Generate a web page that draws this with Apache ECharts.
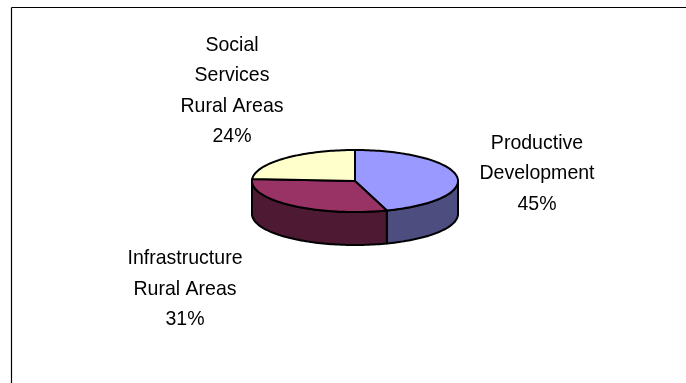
<!DOCTYPE html>
<html>
<head>
<meta charset="utf-8">
<style>
  html, body { margin: 0; padding: 0; background: #fff; }
  #chart { width: 686px; height: 383px; }
</style>
<script src="https://cdn.jsdelivr.net/npm/echarts@6/dist/echarts.min.js"></script>
</head>
<body>
<div id="chart"></div>
<script>
// Share of funding by programme area
const categories = [['Productive', 'Development'], ['Infrastructure', 'Rural Areas'], ['Social', 'Services', 'Rural Areas']];
const shares = [45, 31, 24];
const topColors = ['#9999FF', '#993366', '#FFFFCC'];
const wallColors = ['#4D4D80', '#4D1933', '#80806A'];
const labelCentres = [[537, 173.5], [185, 289], [232, 90.5]];

// Tilted disc geometry
const cx = 355, cy = 181, rx = 103, ry = 31, depth = 33;
const total = shares.reduce((a, b) => a + b, 0);

function rim(fraction, drop) {
  const a = fraction * 2 * Math.PI;
  return [cx + rx * Math.sin(a), cy - ry * Math.cos(a) + drop];
}

function arc(from, to, drop) {
  const pts = [];
  const steps = Math.max(2, Math.ceil((to - from) * 240));
  for (let i = 0; i <= steps; i++) {
    pts.push(rim(from + (to - from) * i / steps, drop));
  }
  return pts;
}

function renderSlice(params, api) {
  const i = params.dataIndex;
  let before = 0;
  for (let k = 0; k < i; k++) before += shares[k];
  const start = before / total;
  const end = start + api.value(0) / total;
  const stroke = { stroke: '#000', lineWidth: 2, lineJoin: 'round' };
  const children = [];

  // Outer wall: only the part of the rim on the near side of the disc
  const wallFrom = Math.max(start, 0.25);
  const wallTo = Math.min(end, 0.75);
  if (wallTo > wallFrom) {
    const upper = arc(wallFrom, wallTo, 0);
    const lower = arc(wallFrom, wallTo, depth).reverse();
    children.push({
      type: 'polygon',
      shape: { points: upper.concat(lower) },
      style: Object.assign({ fill: wallColors[i] }, stroke)
    });
  }

  // Top face of the wedge
  children.push({
    type: 'polygon',
    z2: 5,
    shape: { points: [[cx, cy]].concat(arc(start, end, 0)) },
    style: Object.assign({ fill: topColors[i] }, stroke)
  });

  // Category name and percentage, set slightly narrow
  children.push({
    type: 'text',
    z2: 10,
    x: labelCentres[i][0],
    y: labelCentres[i][1],
    scaleX: 0.93,
    style: {
      text: categories[i].concat(api.value(0) + '%').join('\n'),
      fontFamily: '"Liberation Sans", Arial, sans-serif',
      fontSize: 21,
      lineHeight: 30.5,
      fill: '#000',
      align: 'center',
      verticalAlign: 'middle'
    }
  });

  return { type: 'group', children };
}

const chart = echarts.init(document.getElementById('chart'), null, { renderer: 'canvas' });
chart.setOption({
  animation: false,
  backgroundColor: '#fff',
  graphic: [
    { type: 'line', shape: { x1: 11.5, y1: 7.5, x2: 686, y2: 7.5 }, style: { stroke: '#000', lineWidth: 1.2 } },
    { type: 'line', shape: { x1: 11.5, y1: 7.5, x2: 11.5, y2: 383 }, style: { stroke: '#000', lineWidth: 1.2 } }
  ],
  series: [{
    type: 'custom',
    coordinateSystem: 'none',
    renderItem: renderSlice,
    data: shares.map(v => [v])
  }]
});
</script>
</body>
</html>
